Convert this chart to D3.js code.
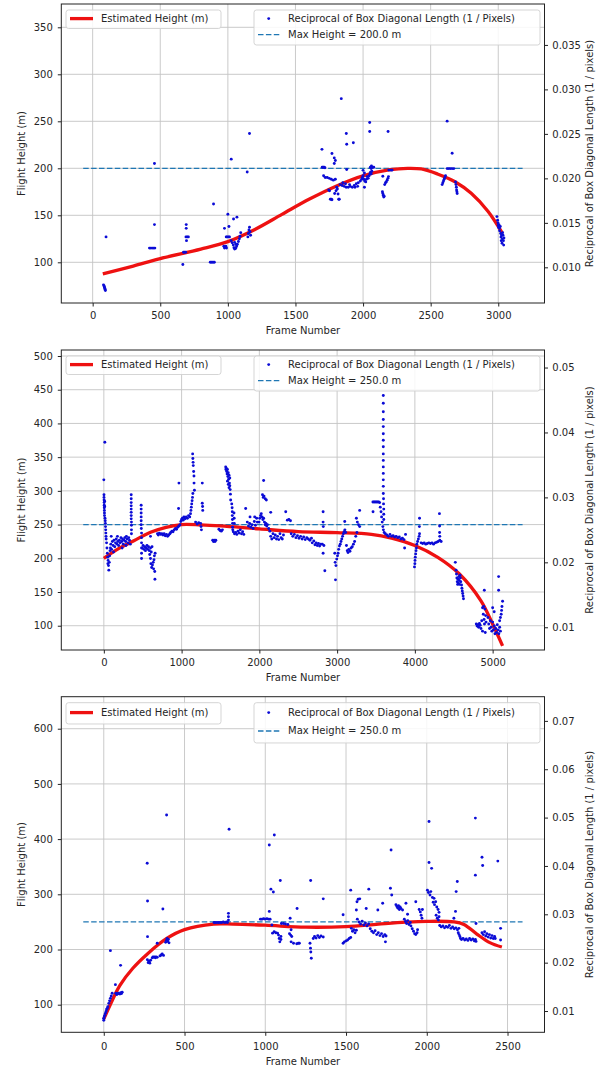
<!DOCTYPE html>
<html>
<head>
<meta charset="utf-8">
<script src="https://cdn.jsdelivr.net/npm/d3@7"></script>
<style>
body { margin: 0; background: #fff; }
text { font-family: "DejaVu Sans", sans-serif; fill: #262626; }
</style>
</head>
<body>
<script>
// ---------- panel 1 ----------
var xDomain1 = [-232, 3342], yLeft1 = [56.7, 374.8], yRight1 = [0.00599, 0.0396];
var xTicks1 = [0, 500, 1000, 1500, 2000, 2500, 3000];
var yTicks1 = [100, 150, 200, 250, 300, 350];
var rTicks1 = [0.010, 0.015, 0.020, 0.025, 0.030, 0.035];
var maxHeight1 = 200, span1 = [-70, 3180];
var lineF1 = [75, 300, 500, 800, 1000, 1200, 1400, 1600, 1800, 2000, 2200, 2330, 2432, 2550, 2680, 2800, 2925, 3030];
var lineH1 = [87.6, 96, 104, 114, 122, 135, 151, 167, 181, 192, 198.5, 200, 199.3, 194, 185.7, 173.4, 154, 131];
var points1 = [
[80,0.00803],[84,0.0079],[86,0.00782],[88,0.00772],[90,0.00761],[92,0.0075],[94,0.0074],[99,0.01342],
[420,0.01216],[430,0.01216],[440,0.01216],[450,0.01216],[460,0.01216],[457,0.0148],[457,0.02167],
[667,0.01031],[672,0.01169],[680,0.01169],[688,0.01169],[692,0.0148],[692,0.01438],[690,0.01342],[700,0.01342],[708,0.01342],[694,0.0130],
[870,0.01057],[880,0.01057],[890,0.01057],[900,0.01057],[894,0.01712],
[970,0.01237],[975,0.01216],[980,0.01227],[985,0.01237],[990,0.01216],[975,0.01438],[988,0.01342],[995,0.01342],[1005,0.01342],[1012,0.01342],[1000,0.01596],[1008,0.01459],[1025,0.02216],
[1025,0.0130],[1032,0.01275],[1040,0.0125],[1045,0.0122],[1050,0.01205],[1055,0.0121],[1060,0.0122],[1065,0.0124],[1070,0.0126],[1078,0.0129],[1085,0.0132],[1090,0.0135],[1095,0.0139],[1050,0.0128],[1060,0.0126],
[1042,0.01543],[1067,0.01564],[1143,0.02072],[1160,0.02505],
[1148,0.01342],[1152,0.0138],[1156,0.0142],[1160,0.0145],[1164,0.0140],[1168,0.0136],
[1696,0.02326],[1698,0.02125],[1705,0.02125],[1712,0.02125],[1718,0.0212],
[1708,0.0203],[1720,0.0201],[1735,0.0201],[1750,0.0200],[1765,0.0199],[1780,0.0198],[1795,0.0199],
[1746,0.0187],[1752,0.0186],[1758,0.01765],[1765,0.01765],[1770,0.0176],[1790,0.0183],[1800,0.0186],[1805,0.0190],[1810,0.0188],[1815,0.01825],[1820,0.01765],[1824,0.01765],
[1770,0.02279],[1787,0.0223],[1787,0.02167],[1795,0.0220],
[1839,0.02896],[1876,0.02505],[1879,0.02384],[1928,0.0240],[1879,0.0210],
[1830,0.0193],[1845,0.0192],[1860,0.0191],[1875,0.0190],[1890,0.0190],[1905,0.0191],[1920,0.0190],[1935,0.0192],[1950,0.0194],[1965,0.0195],[1980,0.0197],[1990,0.0199],[1850,0.0195],[1870,0.0194],[1900,0.0193],[1940,0.0190],[1960,0.0191],[2010,0.0190],
[1995,0.0201],[2000,0.0203],[2005,0.0199],[2012,0.0197],[2020,0.0196],[2025,0.0199],[2030,0.0202],[2038,0.0200],[2045,0.0203],[2050,0.0205],[2055,0.0207],[2060,0.0205],[2065,0.0208],[2010,0.0206],[2000,0.0209],
[2049,0.02628],[2049,0.02526],[2054,0.02125],[2062,0.0214],[2070,0.02125],[2079,0.02125],[2060,0.0211],
[2185,0.02526],
[2143,0.0185],[2146,0.0183],[2150,0.0181],[2153,0.0179],[2156,0.0180],
[2160,0.0193],[2166,0.0195],[2172,0.0196],[2178,0.0198],[2184,0.0200],[2188,0.0202],[2146,0.02024],
[2190,0.02093],[2200,0.02093],[2210,0.02093],[2215,0.02093],
[2585,0.0193],[2590,0.0195],[2595,0.0197],[2600,0.0199],[2605,0.0201],[2610,0.0203],
[2622,0.02643],[2622,0.0211],[2634,0.0211],[2646,0.0211],[2659,0.0211],[2671,0.0211],[2659,0.02283],
[2684,0.0196],[2687,0.0193],[2690,0.0190],[2692,0.0187],[2694,0.0185],[2696,0.0183],
[2990,0.0157],[2995,0.0153],[2998,0.0150],[3000,0.0147],[3003,0.0145],[3005,0.0148],[3008,0.0144],[3010,0.0141],[3015,0.0146],[3018,0.0138],[3020,0.0134],[3022,0.0130],[3025,0.0136],[3028,0.0127],[3030,0.0132],[3032,0.0139],[3035,0.0136],[3038,0.0130],[3040,0.0125],[3042,0.0133]
];

// ---------- panel 2 ----------
var xDomain2 = [-547, 5667], yLeft2 = [64, 508.9], yRight2 = [0.0065, 0.0527];
var xTicks2 = [0, 1000, 2000, 3000, 4000, 5000];
var yTicks2 = [100, 150, 200, 250, 300, 350, 400, 450, 500];
var rTicks2 = [0.01, 0.02, 0.03, 0.04, 0.05];
var maxHeight2 = 250, span2 = [-265, 5385];
var lineF2 = [0, 200, 386, 600, 800, 1000, 1245, 1500, 2000, 2500, 3000, 3440, 3700, 4000, 4295, 4573, 4850, 5000, 5128];
var lineH2 = [200, 215, 226, 238.6, 246, 250, 249.5, 248, 243.6, 239.5, 238, 235.5, 230, 219, 201.5, 176.7, 137, 102.5, 70];
var points2 = [
[0,0.0327],[2,0.0304],[2,0.0300],[3,0.0296],[4,0.0292],[5,0.0288],[6,0.0284],[7,0.0280],[8,0.0276],[9,0.0272],[10,0.0294],[11,0.0286],[13,0.0385],[15,0.0268],[18,0.0264],[20,0.0260],[22,0.0255],[24,0.0250],[26,0.0245],[28,0.0240],[30,0.0236],
[35,0.0230],[40,0.0222],[45,0.0214],[50,0.0208],[52,0.0198],[55,0.0203],[60,0.0195],[64,0.0188],[70,0.0200],[75,0.0210],[80,0.0218],[85,0.0222],
[90,0.0228],[100,0.0220],[110,0.0232],[120,0.0226],[130,0.0234],[140,0.0224],[150,0.0230],[160,0.0236],[170,0.0228],[180,0.0232],[190,0.0226],[200,0.0234],[210,0.0230],[220,0.0238],[230,0.0232],[240,0.0236],[250,0.0228],[260,0.0234],[270,0.0238],[280,0.0232],[290,0.0240],[300,0.0236],[310,0.0230],[320,0.0238],[330,0.0234],[340,0.0228],
[95,0.0240],[125,0.0216],[175,0.0240],[235,0.0222],[285,0.0226],
[352,0.0304],[352,0.0298],[352,0.0292],[352,0.0287],[352,0.0282],[352,0.0277],[352,0.0272],[352,0.0267],[355,0.0262],[355,0.0257],[355,0.0250],[355,0.0244],
[480,0.0288],[480,0.0282],[480,0.0276],[480,0.0270],[480,0.0264],[480,0.0258],[482,0.0252],[485,0.0245],[485,0.0238],[485,0.0230],[485,0.0222],[485,0.0214],[485,0.0206],
[495,0.0222],[505,0.0226],[515,0.0220],[525,0.0224],[535,0.0218],[545,0.0222],[555,0.0226],[565,0.0220],[575,0.0224],[585,0.0218],[600,0.0222],[610,0.0216],[620,0.0224],[600,0.0240],
[590,0.0212],[600,0.0206],[605,0.0198],[615,0.0192],[625,0.0196],[635,0.0200],[640,0.0190],[645,0.0204],[650,0.0210],[655,0.0186],[657,0.0174],[660,0.0214],
[690,0.0244],[700,0.0242],[715,0.0245],[730,0.0243],[745,0.0244],[760,0.0242],[775,0.0244],[790,0.0241],[805,0.0243],[820,0.0240],[835,0.0242],[850,0.0244],
[860,0.0246],[875,0.0248],[890,0.0247],[905,0.0250],[920,0.0252],[935,0.0251],[950,0.0254],[965,0.0256],[980,0.0258],[966,0.0322],[961,0.0283],
[990,0.0263],[1000,0.0266],[1010,0.0268],[1020,0.0265],[1030,0.0270],[1045,0.0267],[1060,0.0270],[1075,0.0268],[1090,0.0272],[1105,0.0270],[1115,0.0275],
[1120,0.0280],[1125,0.0285],[1130,0.0290],[1135,0.0295],[1140,0.0300],[1145,0.0306],
[1142,0.0367],[1145,0.0360],[1148,0.0354],[1150,0.0349],[1155,0.0340],[1159,0.0333],[1160,0.0322],[1165,0.0311],
[1180,0.0262],[1200,0.0259],[1220,0.0261],[1245,0.0260],[1250,0.0255],[1255,0.0250],
[1266,0.0322],[1266,0.0291],[1270,0.0286],[1272,0.0280],
[1400,0.0234],[1410,0.0232],[1420,0.0234],[1430,0.0232],[1440,0.0234],
[1480,0.0251],[1495,0.0249],[1510,0.0248],[1525,0.0250],
[1567,0.0347],[1570,0.0343],[1575,0.0345],[1580,0.0340],[1585,0.0336],[1590,0.0343],[1595,0.0332],[1600,0.0338],[1605,0.0328],[1610,0.0334],[1615,0.0322],[1620,0.0318],[1625,0.0312],[1628,0.0305],[1631,0.0296],[1600,0.0320],[1610,0.0315],[1590,0.0325],[1620,0.0330],
[1645,0.0290],[1650,0.0284],[1652,0.0278],[1652,0.0272],[1654,0.0266],[1655,0.0260],[1656,0.0254],[1658,0.0250],[1674,0.0276],[1676,0.0268],[1678,0.0260],
[1665,0.0247],[1680,0.0244],[1695,0.0246],[1710,0.0243],[1725,0.0248],[1740,0.0245],[1755,0.0250],[1770,0.0244],[1785,0.0247],[1800,0.0243],
[1824,0.0283],
[1845,0.0262],[1860,0.0256],[1875,0.0260],[1890,0.0254],[1905,0.0258],[1920,0.0252],[1935,0.0263],[1950,0.0257],[1965,0.0268],[1974,0.0262],[1880,0.0270],[1940,0.0270],
[2040,0.0304],[2050,0.0300],[2060,0.0302],[2075,0.0298],[2090,0.0296],[2055,0.0326],
[1996,0.0262],[2005,0.0268],[2015,0.0272],[2025,0.0275],[2035,0.0270],[2045,0.0266],[2055,0.0268],[2065,0.0262],[2075,0.0258],[2085,0.0260],[2095,0.0256],[2103,0.0258],
[2120,0.0252],[2135,0.0248],[2146,0.0240],[2160,0.0236],[2175,0.0244],[2190,0.0238],[2205,0.0242],[2220,0.0236],[2235,0.0240],[2250,0.0235],[2265,0.0244],[2280,0.0238],[2295,0.0236],[2310,0.0242],[2146,0.0277],
[2339,0.0278],[2360,0.0265],[2380,0.0266],[2400,0.0264],
[2410,0.0244],[2430,0.0240],[2450,0.0243],[2470,0.0238],[2490,0.0241],[2510,0.0237],[2530,0.0240],[2550,0.0236],[2570,0.0239],[2590,0.0235],[2610,0.0238],[2630,0.0236],[2650,0.0234],[2670,0.0237],
[2680,0.0230],[2700,0.0233],[2715,0.0227],[2730,0.0230],[2745,0.0226],[2760,0.0229],[2775,0.0225],[2790,0.0228],
[2820,0.0278],[2820,0.0262],[2822,0.0255],[2820,0.0214],[2842,0.0187],[2830,0.0226],[2810,0.0228],
[2970,0.0214],[2975,0.0200],[2979,0.0173],[2985,0.0195],[2995,0.0205],[3005,0.0210],[3013,0.0214],
[3020,0.0220],[3030,0.0225],[3040,0.0228],[3050,0.0232],[3060,0.0236],[3070,0.0240],[3080,0.0244],[3090,0.0247],[3100,0.0250],[3110,0.0246],[3098,0.0263],
[3120,0.0226],[3130,0.0218],[3140,0.0215],[3150,0.0220],[3165,0.0217],[3180,0.0222],[3195,0.0224],[3210,0.0228],[3225,0.0232],
[3248,0.0268],[3260,0.0262],[3275,0.0258],[3290,0.0255],[3290,0.0280],[3240,0.0240],[3255,0.0246],
[3460,0.0293],[3475,0.0293],[3490,0.0293],[3505,0.0293],[3520,0.0293],[3535,0.0293],[3547,0.0292],[3462,0.0278],
[3555,0.0285],[3565,0.0278],[3572,0.0270],[3580,0.0262],[3588,0.0255],[3595,0.0250],[3605,0.0246],
[3594,0.0457],[3594,0.0445],[3594,0.0432],[3594,0.0420],[3594,0.0409],[3594,0.0398],[3594,0.0388],[3594,0.0378],[3594,0.0367],[3594,0.0357],[3594,0.0347],[3594,0.0337],[3594,0.0327],[3594,0.0317],[3594,0.0306],[3597,0.0298],[3597,0.0290],[3600,0.0282],[3600,0.0274],[3600,0.0266],
[3620,0.0244],[3640,0.0242],[3660,0.0240],[3680,0.0243],[3700,0.0240],[3720,0.0241],[3740,0.0239],[3760,0.0240],[3780,0.0238],[3800,0.0239],[3820,0.0236],[3840,0.0237],[3860,0.0235],[3868,0.0222],[3880,0.0243],
[3995,0.0193],[4000,0.0198],[4002,0.0203],[4005,0.0208],[4010,0.0213],[4015,0.0218],[4020,0.0222],[4025,0.0228],[4035,0.0232],[4045,0.0236],[4055,0.0240],[4060,0.0244],[4060,0.0268],[4058,0.0255],
[4080,0.0230],[4100,0.0229],[4120,0.0230],[4140,0.0228],[4160,0.0229],[4180,0.0230],[4200,0.0229],[4220,0.0230],[4240,0.0228],[4260,0.0230],[4280,0.0231],[4300,0.0232],[4320,0.0234],[4338,0.0232],
[4316,0.0275],[4318,0.0256],[4318,0.0246],[4320,0.0240],
[4520,0.0200],[4530,0.0188],[4535,0.0182],[4540,0.0176],[4545,0.0170],[4550,0.0166],[4555,0.0174],[4560,0.0168],[4565,0.0178],[4570,0.0172],[4575,0.0166],[4580,0.0180],[4585,0.0176],[4590,0.0170],
[4600,0.0165],[4605,0.0160],[4610,0.0156],[4615,0.0152],[4620,0.0148],[4625,0.0144],
[4790,0.0105],[4800,0.0102],[4810,0.0104],[4820,0.0100],[4830,0.0106],[4840,0.0103],[4850,0.0098],[4860,0.0110],[4870,0.0094],[4880,0.0120],[4885,0.0132],[4890,0.0112],[4895,0.0105],[4900,0.0128],[4905,0.0092],[4910,0.0118],[4915,0.0108],[4893,0.0157],[4870,0.0130],
[4940,0.0115],[4950,0.0105],[4960,0.0098],[4970,0.0110],[4980,0.0100],[4990,0.0094],[5000,0.0108],[5010,0.0096],[5020,0.0102],[5030,0.0090],[5040,0.0098],[5050,0.0092],[5060,0.0104],[5070,0.0096],[5080,0.0090],[5090,0.0100],[5100,0.0094],[5000,0.0130],[5020,0.0124],
[5077,0.0178],[5077,0.0157],
[5090,0.0110],[5100,0.0115],[5110,0.0120],[5115,0.0126],[5120,0.0132],[5128,0.0140]
];

// ---------- panel 3 ----------
var xDomain3 = [-263, 2729], yLeft3 = [50, 658], yRight3 = [0.0056, 0.0750];
var xTicks3 = [0, 500, 1000, 1500, 2000, 2500];
var yTicks3 = [100, 200, 300, 400, 500, 600];
var rTicks3 = [0.01, 0.02, 0.03, 0.04, 0.05, 0.06, 0.07];
var maxHeight3 = 250, span3 = [-127, 2593];
var lineF3 = [0, 40, 100, 180, 270, 390, 500, 680, 800, 1000, 1250, 1500, 1700, 1870, 2000, 2170, 2230, 2310, 2390, 2465];
var lineH3 = [74, 100, 135, 166, 192, 220, 236, 246, 246, 244, 240.5, 241.5, 246, 249.5, 251, 250, 245.5, 228, 212.5, 204.5];
var points3 = [
[0,0.00848],[3,0.0088],[6,0.0091],[10,0.00952],[14,0.0099],[18,0.0103],[21,0.01055],[25,0.0109],[31,0.01159],[36,0.0121],[41,0.01262],[46,0.0131],[52,0.01366],[0,0.0081],
[41,0.02248],[72,0.01545],
[75,0.01366],[80,0.0134],[85,0.0135],[90,0.0137],[95,0.0136],[100,0.0135],[105,0.0138],[110,0.0136],[114,0.0139],[104,0.01945],
[269,0.04055],[271,0.03276],[271,0.02538],
[270,0.0206],[275,0.0200],[280,0.0203],[285,0.0199],[290,0.0205],[300,0.0210],[305,0.0212],[310,0.0211],[315,0.0212],[320,0.0210],[325,0.0212],[331,0.0211],[331,0.0240],
[348,0.0214],[355,0.0216],[362,0.0218],[370,0.0215],[366,0.0311],[389,0.05055],
[383,0.0242],[388,0.0246],[392,0.0250],[396,0.0244],[400,0.0248],[404,0.0241],
[683,0.0283],[690,0.0283],[700,0.0283],[710,0.0283],[720,0.0283],[730,0.0283],[740,0.0284],[750,0.0283],[760,0.0284],[766,0.0283],
[772,0.0302],[772,0.0295],[772,0.0288],[776,0.0476],
[970,0.0290],[980,0.0290],[990,0.0291],[1000,0.0290],[1010,0.0291],[1020,0.0290],[1030,0.0290],
[1025,0.04434],[1035,0.0352],[1050,0.0346],[1056,0.0464],[1025,0.0306],[1093,0.0370],
[1041,0.0278],[1045,0.0261],[1055,0.0264],[1065,0.0262],[1076,0.0261],[1082,0.0257],[1086,0.0250],[1090,0.0243],[1097,0.0254],[1097,0.0248],
[1100,0.0281],[1113,0.0281],[1125,0.0280],[1140,0.0279],[1154,0.0292],[1160,0.0268],
[1150,0.0260],[1157,0.0257],[1164,0.0254],
[1160,0.0243],[1175,0.0240],[1195,0.0239],[1197,0.0312],[1205,0.0240],[1211,0.0240],
[1281,0.0370],[1277,0.0240],[1280,0.0230],[1282,0.0222],[1285,0.0209],
[1297,0.0250],[1305,0.0254],[1315,0.0251],[1325,0.0256],[1335,0.0252],[1345,0.0255],[1359,0.0253],[1359,0.0332],
[1482,0.0299],
[1482,0.0240],[1490,0.0243],[1500,0.0245],[1510,0.0247],[1520,0.0250],[1529,0.0252],[1529,0.0350],
[1533,0.0271],[1540,0.0265],[1548,0.0268],[1556,0.0262],[1564,0.0267],
[1564,0.0309],[1568,0.0326],[1575,0.0331],[1585,0.0332],
[1570,0.0290],[1580,0.0284],[1590,0.0280],[1600,0.0286],[1610,0.0278],[1620,0.0282],[1630,0.0276],[1640,0.0280],
[1625,0.0312],[1641,0.0352],
[1650,0.0270],[1660,0.0265],[1670,0.0262],[1680,0.0266],[1690,0.0258],[1700,0.0262],[1710,0.0256],[1720,0.0260],[1730,0.0254],[1740,0.0258],[1748,0.0255],
[1697,0.0309],[1727,0.0323],[1744,0.0243],
[1779,0.0433],[1775,0.0354],[1783,0.0340],
[1809,0.0320],[1815,0.0316],[1820,0.0313],[1825,0.0318],[1830,0.0310],[1835,0.0315],[1840,0.0312],[1850,0.0309],
[1871,0.0323],[1881,0.0300],
[1861,0.0290],[1868,0.0285],[1875,0.0281],[1882,0.0287],[1890,0.0279],[1898,0.0283],
[1902,0.0276],[1910,0.0270],[1918,0.0265],[1925,0.0260],[1932,0.0258],[1940,0.0262],[1943,0.0268],[1932,0.0326],
[1953,0.0310],[1960,0.0305],[1965,0.0298],[1970,0.0292],[1973,0.0310],
[2014,0.0492],[2014,0.0407],[2030,0.0395],
[2004,0.0350],[2010,0.0345],[2020,0.0340],[2025,0.0347],[2035,0.0335],[2045,0.0333],
[2040,0.0325],[2048,0.0320],[2055,0.0326],[2062,0.0315],[2070,0.0310],[2076,0.0304],
[2058,0.0298],[2065,0.0292],[2072,0.0288],[2076,0.0295],
[2080,0.0277],[2090,0.0274],[2100,0.0276],[2110,0.0272],[2120,0.0275],[2130,0.0273],[2140,0.0277],[2150,0.0271],[2160,0.0274],[2170,0.0270],[2180,0.0272],[2190,0.0268],[2199,0.0271],
[2189,0.0368],[2182,0.0347],[2178,0.0306],[2168,0.0292],
[2195,0.0262],[2200,0.0258],[2205,0.0254],[2209,0.0250],
[2215,0.0248],[2225,0.0250],[2235,0.0247],[2245,0.0249],[2255,0.0246],[2265,0.0250],[2275,0.0247],[2285,0.0249],[2295,0.0245],[2301,0.0248],[2305,0.0244],
[2301,0.0381],[2301,0.0499],[2305,0.0281],
[2342,0.0418],[2346,0.0401],
[2342,0.0262],[2350,0.0258],[2358,0.0264],[2365,0.0255],[2372,0.0260],[2380,0.0253],[2388,0.0258],[2396,0.0251],[2404,0.0256],[2412,0.0250],[2420,0.0254],[2424,0.0250],
[2440,0.0410],[2457,0.0271],[2457,0.0247]
];

var legendLabels = ["Estimated Height (m)", "Reciprocal of Box Diagonal Length (1 / Pixels)"];

// Set page size and shared plot edges
var width = 608, height = 1069;
var plotLeft = 61.3, plotRight = 544.5;

var panels = [
  {top: 4, bottom: 303, s: 1, tickOff: 12, labelOff: 27, xDomain: xDomain1, yLeft: yLeft1, yRight: yRight1,
   xTicks: xTicks1, yTicks: yTicks1, rTicks: rTicks1, rFmt: ".3f", lineF: lineF1, lineH: lineH1, pts: points1, maxH: maxHeight1, span: span1},
  {top: 350, bottom: 650, s: 1, tickOff: 12.7, labelOff: 27, xDomain: xDomain2, yLeft: yLeft2, yRight: yRight2,
   xTicks: xTicks2, yTicks: yTicks2, rTicks: rTicks2, rFmt: ".2f", lineF: lineF2, lineH: lineH2, pts: points2, maxH: maxHeight2, span: span2},
  {top: 696.7, bottom: 1032.3, s: 1.15, tickOff: 13.7, labelOff: 29.4, xDomain: xDomain3, yLeft: yLeft3, yRight: yRight3,
   xTicks: xTicks3, yTicks: yTicks3, rTicks: rTicks3, rFmt: ".2f", lineF: lineF3, lineH: lineH3, pts: points3, maxH: maxHeight3, span: span3}
];

var svg = d3.select("body").append("svg")
    .attr("width", width)
    .attr("height", height);

panels.forEach(function(p) {
  var x = d3.scaleLinear().domain(p.xDomain).range([plotLeft, plotRight]);
  var yL = d3.scaleLinear().domain(p.yLeft).range([p.bottom, p.top]);
  var yR = d3.scaleLinear().domain(p.yRight).range([p.bottom, p.top]);
  var g = svg.append("g");

  // grid
  g.selectAll(".vgrid").data(p.xTicks).enter().append("line")
      .attr("x1", function(d) { return x(d); }).attr("x2", function(d) { return x(d); })
      .attr("y1", p.top).attr("y2", p.bottom)
      .attr("stroke", "#c4c4c4").attr("stroke-width", 0.9);
  g.selectAll(".hgrid").data(p.yTicks).enter().append("line")
      .attr("y1", function(d) { return yL(d); }).attr("y2", function(d) { return yL(d); })
      .attr("x1", plotLeft).attr("x2", plotRight)
      .attr("stroke", "#c4c4c4").attr("stroke-width", 0.9);

  // max height dashed line
  g.append("line")
      .attr("x1", x(p.span[0])).attr("x2", x(p.span[1]))
      .attr("y1", yL(p.maxH)).attr("y2", yL(p.maxH))
      .attr("stroke", "#1f77b4").attr("stroke-width", 1.3)
      .attr("stroke-dasharray", "5.5,2.4");

  // estimated height curve
  var lineData = p.lineF.map(function(f, i) { return [f, p.lineH[i]]; });
  g.append("path")
      .datum(lineData)
      .attr("fill", "none")
      .attr("stroke", "#ee1111")
      .attr("stroke-width", 3.3)
      .attr("d", d3.line()
          .x(function(d) { return x(d[0]); })
          .y(function(d) { return yL(d[1]); })
          .curve(d3.curveCatmullRom.alpha(0.5)));

  // reciprocal points
  g.selectAll(".pt").data(p.pts).enter().append("circle")
      .attr("cx", function(d) { return x(d[0]); })
      .attr("cy", function(d) { return yR(d[1]); })
      .attr("r", 1.45)
      .attr("fill", "#0b0bd6");

  // frame
  g.append("rect")
      .attr("x", plotLeft).attr("y", p.top)
      .attr("width", plotRight - plotLeft).attr("height", p.bottom - p.top)
      .attr("fill", "none").attr("stroke", "#222").attr("stroke-width", 1);

  // axes
  var ax = g.append("g").attr("transform", "translate(0," + p.bottom + ")")
      .call(d3.axisBottom(x).tickValues(p.xTicks).tickSize(3.5).tickPadding(p.tickOff - 7).tickFormat(d3.format("d")));
  var al = g.append("g").attr("transform", "translate(" + plotLeft + ",0)")
      .call(d3.axisLeft(yL).tickValues(p.yTicks).tickSize(3.5).tickPadding(5).tickFormat(d3.format("d")));
  var ar = g.append("g").attr("transform", "translate(" + plotRight + ",0)")
      .call(d3.axisRight(yR).tickValues(p.rTicks).tickSize(3.5).tickPadding(4.3).tickFormat(d3.format(p.rFmt)));
  [ax, al, ar].forEach(function(a) {
    a.select(".domain").remove();
    a.selectAll("line").attr("stroke", "#222");
    a.selectAll("text").style("font-size", "10px").attr("fill", "#262626")
      .style("font-family", "'DejaVu Sans', sans-serif");
  });

  // axis labels
  g.append("text")
      .attr("x", (plotLeft + plotRight) / 2).attr("y", p.bottom + p.labelOff)
      .attr("dy", "0.35em").attr("text-anchor", "middle")
      .style("font-size", "10px").text("Frame Number");
  var cy = (p.top + p.bottom) / 2;
  g.append("text")
      .attr("transform", "translate(21.7," + cy + ") rotate(-90)")
      .attr("dy", "0.35em").attr("text-anchor", "middle")
      .style("font-size", "10px").text("Flight Height (m)");
  g.append("text")
      .attr("transform", "translate(589," + cy + ") rotate(-90)")
      .attr("dy", "0.35em").attr("text-anchor", "middle")
      .style("font-size", "10px").text("Reciprocal of Box Diagonal Length (1 / pixels)");

  // legends
  var s = p.s;
  var boxTop = p.top + 6;
  var row1 = boxTop + 8.6 * s, row2 = row1 + 16 * s;
  g.append("rect")
      .attr("x", 66).attr("y", boxTop).attr("width", 155).attr("height", 18.5 * s)
      .attr("rx", 2.5).attr("fill", "#fff").attr("fill-opacity", 0.85)
      .attr("stroke", "#d0d0d0").attr("stroke-width", 0.9);
  g.append("line")
      .attr("x1", 70).attr("x2", 93).attr("y1", row1).attr("y2", row1)
      .attr("stroke", "#ee1111").attr("stroke-width", 3.3);
  g.append("text").attr("x", 101).attr("y", row1).attr("dy", "0.35em")
      .style("font-size", "10px").text(legendLabels[0]);

  g.append("rect")
      .attr("x", 254).attr("y", boxTop).attr("width", 286).attr("height", 35 * s)
      .attr("rx", 2.5).attr("fill", "#fff").attr("fill-opacity", 0.85)
      .attr("stroke", "#d0d0d0").attr("stroke-width", 0.9);
  g.append("circle").attr("cx", 268.7).attr("cy", row1).attr("r", 1.45).attr("fill", "#0b0bd6");
  g.append("text").attr("x", 288).attr("y", row1).attr("dy", "0.35em")
      .style("font-size", "10px").text(legendLabels[1]);
  g.append("line")
      .attr("x1", 258).attr("x2", 280).attr("y1", row2).attr("y2", row2)
      .attr("stroke", "#1f77b4").attr("stroke-width", 1.3)
      .attr("stroke-dasharray", "5.5,2.4");
  g.append("text").attr("x", 288).attr("y", row2).attr("dy", "0.35em")
      .style("font-size", "10px").text("Max Height = " + p.maxH.toFixed(1) + " m");
});
</script>
</body>
</html>
